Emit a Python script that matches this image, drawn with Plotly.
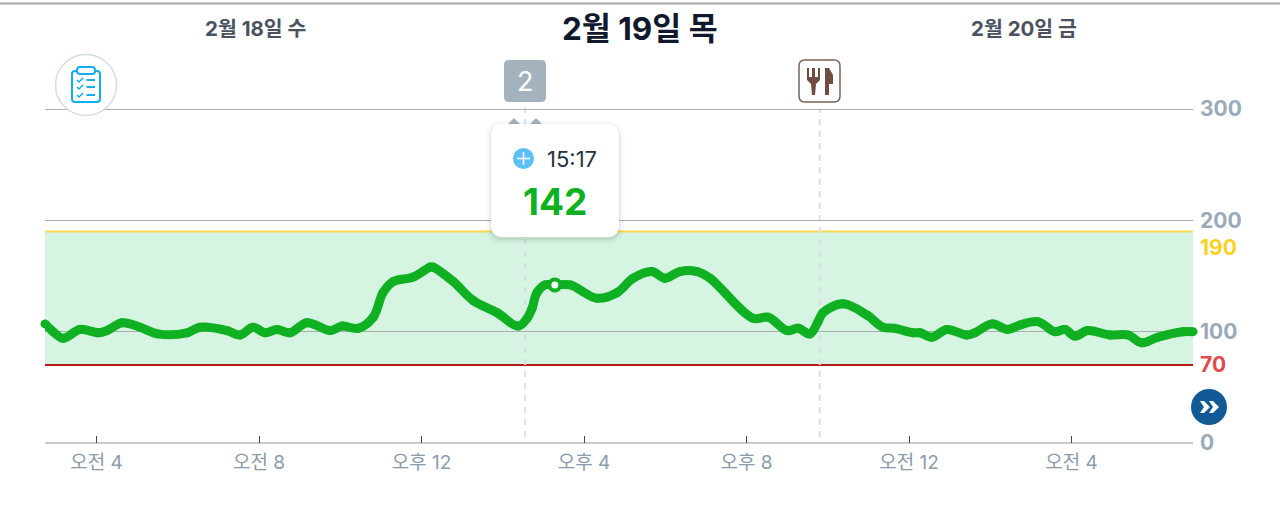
import plotly.graph_objects as go

# hours since midnight on 2/19 (over 24 = next day), glucose mg/dL
hours = [2.73, 2.93, 3.18, 3.59, 4.04, 4.26, 4.63, 5.07, 5.51, 6.23, 6.55, 7.21, 7.53, 7.85, 8.15,
         8.44, 8.76, 9.18, 9.75, 10.04, 10.44, 10.81, 11.05, 11.30, 11.79, 12.21, 12.28, 12.78,
         13.27, 13.86, 14.38, 14.60, 14.72, 14.84, 15.04, 15.29, 15.66, 16.32, 16.81, 17.21,
         17.67, 17.99, 18.36, 18.78, 19.10, 20.16, 20.53, 21.00, 21.27, 21.56, 21.76, 21.88,
         22.37, 22.96, 23.36, 23.65, 24.10, 24.27, 24.56, 24.93, 25.42, 25.62, 26.04, 26.43,
         26.73, 27.17, 27.59, 27.84, 28.08, 28.40, 28.94, 29.39, 29.73, 30.12, 30.74, 30.99]
glucose = [107, 100, 94, 102, 99, 101, 108, 104, 98, 99, 104, 101, 97, 104, 99,
           102, 99, 108, 101, 105, 103, 113, 135, 145, 149, 158, 158, 145,
           128, 117, 105, 112, 121, 135, 142, 142, 142, 130, 135, 148,
           154, 148, 154, 154, 148, 112, 113, 101, 103, 98, 109, 117,
           125, 115, 104, 103, 99, 99, 95, 102, 97, 99, 107, 102,
           106, 109, 100, 102, 96, 101, 97, 97, 90, 95, 100, 100]

tick_hours = [4, 8, 12, 16, 20, 24, 28]
tick_labels = ["오전 4", "오전 8", "오후 12", "오후 4", "오후 8", "오전 12", "오전 4"]
y_ticks = [0, 100, 200, 300]
y_labels = ["0", "100", "200", "300"]

selected_hour = [15.28]
selected_value = [142]
event_hours = [14.55, 21.80]  # dashed event lines

range_low = 70
range_high = 190

FONT = "Inter, 'Noto Sans CJK KR', sans-serif"
GREEN = "#0FB021"

# plot box in pixels, top a little over the 300 line so its gridline gets drawn
L, R, T, B = 45, 1193, 105, 443
Y_MAX = 303.6


def px(x):
    return (x - L) / (R - L)


def py(y):
    return (B - y) / (B - T)


def rrect(x0, y0, x1, y1, r):
    p = [
        f"M{px(x0 + r)},{py(y0)}", f"L{px(x1 - r)},{py(y0)}", f"Q{px(x1)},{py(y0)} {px(x1)},{py(y0 + r)}",
        f"L{px(x1)},{py(y1 - r)}", f"Q{px(x1)},{py(y1)} {px(x1 - r)},{py(y1)}",
        f"L{px(x0 + r)},{py(y1)}", f"Q{px(x0)},{py(y1)} {px(x0)},{py(y1 - r)}",
        f"L{px(x0)},{py(y0 + r)}", f"Q{px(x0)},{py(y0)} {px(x0 + r)},{py(y0)}", "Z",
    ]
    return " ".join(p)


def poly(points, close=True):
    s = " ".join(("M" if i == 0 else "L") + f"{px(x)},{py(y)}" for i, (x, y) in enumerate(points))
    return s + (" Z" if close else "")


def path_shape(path, fill="rgba(0,0,0,0)", line="rgba(0,0,0,0)", width=0):
    return dict(type="path", xref="paper", yref="paper", path=path, fillcolor=fill,
                line=dict(color=line, width=width), layer="above")


def circle(cx, cy, r, fill, line="rgba(0,0,0,0)", width=0):
    return dict(type="circle", xref="paper", yref="paper", x0=px(cx - r), x1=px(cx + r),
                y0=py(cy + r), y1=py(cy - r), fillcolor=fill,
                line=dict(color=line, width=width), layer="above")


def label(x, y, text, size, color, bold=False, anchor="center"):
    return dict(xref="paper", yref="paper", x=px(x), y=py(y), text=f"<b>{text}</b>" if bold else text,
                showarrow=False, xanchor=anchor, yanchor="middle",
                font=dict(family=FONT, size=size, color=color))


fig = go.Figure()
fig.add_trace(go.Scatter(
    x=hours, y=glucose, mode="lines+markers",
    line=dict(color=GREEN, width=9, shape="spline", smoothing=1.0),
    marker=dict(color=GREEN, size=9),
    cliponaxis=False, hoverinfo="skip", showlegend=False,
))
fig.add_trace(go.Scatter(
    x=selected_hour, y=selected_value, mode="markers",
    marker=dict(color="white", size=11, line=dict(color=GREEN, width=4)),
    cliponaxis=False, hoverinfo="skip", showlegend=False,
))

shapes = []
# target band under the grid
shapes.append(dict(type="rect", xref="paper", yref="y", x0=0, x1=1, y0=range_low, y1=range_high,
                   fillcolor="#D5F5E2", line_width=0, layer="below"))
shapes.append(dict(type="line", xref="paper", yref="y", x0=0, x1=1, y0=range_high, y1=range_high,
                   line=dict(color="#F7D84E", width=2), layer="between"))
shapes.append(dict(type="line", xref="paper", yref="y", x0=0, x1=1, y0=range_low, y1=range_low,
                   line=dict(color="#B71C1C", width=2), layer="between"))
for h, top in zip(event_hours, [102, 109]):
    shapes.append(dict(type="line", xref="x", yref="paper", x0=h, x1=h, y0=py(437), y1=py(top),
                       line=dict(color="#D9DDE5", width=2, dash="6px,6px"), layer="between"))

# gray rule along the top of the screenshot
shapes.append(dict(type="line", xref="paper", yref="paper", x0=px(0), x1=px(1280), y0=py(3.5), y1=py(3.5),
                   line=dict(color="#A8A8A8", width=2), layer="above"))

# clipboard button
shapes.append(circle(86, 85, 30.5, "white", "#D3DEE3", 1.5))
shapes.append(path_shape(rrect(72, 71, 100, 102, 3), "white", "#14AEEE", 2))
shapes.append(path_shape(rrect(77, 67, 95, 74, 3), "white", "#14AEEE", 2))
for row in [80, 87, 95]:
    shapes.append(path_shape(poly([(77, row), (79, row + 2), (83, row - 2)], close=False), line="#14AEEE", width=1.5))
    shapes.append(path_shape(poly([(86.5, row), (95, row)], close=False), line="#14AEEE", width=2))

# badge with the event count
shapes.append(path_shape(rrect(504, 60, 546, 102, 5), "#A4B2BE"))
# little diamonds behind the tooltip
for dx in [514, 536]:
    shapes.append(path_shape(poly([(dx - 6, 124), (dx, 118), (dx + 6, 124), (dx, 130)]), "#A4B2BE"))

# meal badge
shapes.append(path_shape(rrect(799, 60, 840, 102, 6), "white", "#7B6257", 1.5))
BROWN = "#6F4E41"
shapes.append(path_shape(poly([(807, 68), (809, 68), (809, 77), (812, 77), (812, 68), (815, 68), (815, 77),
                               (818, 77), (818, 68), (820, 68), (820, 80), (816, 84), (815, 95), (812, 95),
                               (811, 84), (807, 80)]), BROWN))
shapes.append(path_shape(poly([(825, 68), (829, 68), (833, 75), (833, 84), (829, 84), (829, 95), (825, 95)]), BROWN))

# fast-forward button
shapes.append(circle(1209, 407, 18, "#115A96"))
shapes.append(path_shape(poly([(1200, 401), (1204, 401), (1210, 407), (1204, 413), (1200, 413), (1204, 407)]), "white"))
shapes.append(path_shape(poly([(1209, 401), (1213, 401), (1219, 407), (1213, 413), (1209, 413), (1213, 407)]), "white"))

# tooltip card with a soft shadow
for grow, alpha in [(6, 0.012), (4, 0.02), (2, 0.03), (1, 0.04)]:
    shapes.append(path_shape(rrect(491 - grow, 124 - grow + 2, 619 + grow, 237 + grow + 2, 12 + grow),
                             f"rgba(0,0,0,{alpha})"))
shapes.append(path_shape(rrect(491, 124, 619, 237, 12), "white"))
shapes.append(circle(523.5, 158.5, 10.5, "#5BC0F5"))
shapes.append(path_shape(poly([(517, 158.5), (530, 158.5)], close=False), line="white", width=1.5))
shapes.append(path_shape(poly([(523.5, 152), (523.5, 165)], close=False), line="white", width=1.5))

annotations = [
    label(255, 29, "2월 18일 수", 20.5, "#4A5261", True),
    label(640, 29, "2월 19일 목", 31.5, "#10182C", True),
    label(1024, 29, "2월 20일 금", 20.5, "#4A5261", True),
    label(525, 81, "2", 27, "white"),
    label(572, 159, "15:17", 22, "#25323F"),
    label(555, 201, "142", 37, GREEN, True),
    label(1198, 247, "190", 21, "#F8D21F", True, anchor="left"),
    label(1198, 364, "70", 21, "#E04A4A", True, anchor="left"),
]

fig.update_layout(
    width=1280, height=522,
    margin=dict(l=L, r=1280 - R, t=T, b=522 - B, autoexpand=False),
    paper_bgcolor="white", plot_bgcolor="white",
    font=dict(family=FONT),
    showlegend=False,
    shapes=shapes,
    annotations=annotations,
)
fig.update_xaxes(
    range=[2.73, 30.99], tickmode="array", tickvals=tick_hours, ticktext=tick_labels,
    ticks="inside", ticklen=7, tickwidth=1, tickcolor="#444444", showgrid=False, zeroline=False,
    showline=False, ticklabelstandoff=6, tickfont=dict(family=FONT, size=19, color="#8A9BAB"),
)
fig.update_yaxes(
    range=[0, Y_MAX], side="right", tickmode="array", tickvals=y_ticks, ticktext=y_labels,
    showgrid=True, gridcolor="#A9ADB0", gridwidth=1.2, zeroline=True, zerolinecolor="#C8CCD0", zerolinewidth=2,
    ticks="", showline=False, ticklabelstandoff=6, tickfont=dict(family=FONT, size=21, color="#9AAAB8", weight="bold"),
)

fig.write_html("out.html", config=dict(displayModeBar=False), post_script="document.body.style.margin='0';")
